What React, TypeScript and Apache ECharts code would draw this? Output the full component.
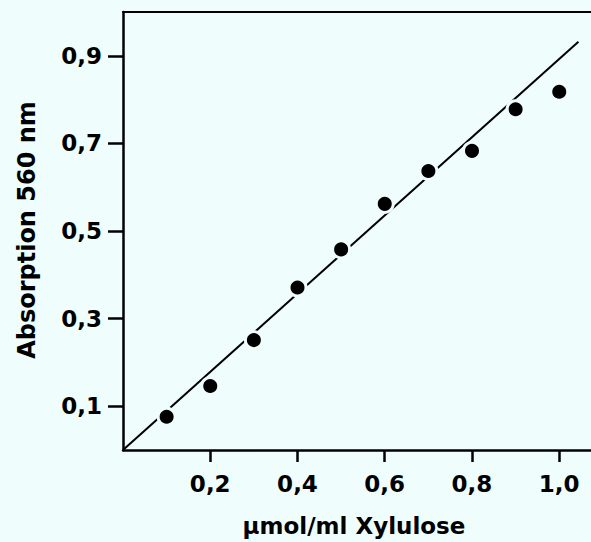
import React, { useEffect, useRef } from "react";
import * as echarts from "echarts";

const xValues = [0.1, 0.2, 0.3, 0.4, 0.5, 0.6, 0.7, 0.8, 0.9, 1.0];
const yValues = [0.076, 0.146, 0.251, 0.371, 0.458, 0.562, 0.637, 0.683, 0.778, 0.818];
const fitLine = [
  [0, 0],
  [1.044, 0.932],
];
const xTicks = [0.2, 0.4, 0.6, 0.8, 1.0];
const yTicks = [0.1, 0.3, 0.5, 0.7, 0.9];
const xTitle = "µmol/ml Xylulose";
const yTitle = "Absorption 560 nm";

const BG = "#effdfd";
const FONT = "'DejaVu Sans', sans-serif";

export default function App() {
  const ref = useRef<HTMLDivElement>(null);
  useEffect(() => {
    document.body.style.margin = "0";
    document.body.style.background = BG;
    const chart = echarts.init(ref.current!, null, { renderer: "svg" });
    const fmt = (v: number) => v.toFixed(1).replace(".", ",");
    chart.setOption({
      animation: false,
      backgroundColor: BG,
      grid: { left: 123, top: 12, width: 468, height: 438, containLabel: false },
      xAxis: [
        {
          type: "value",
          min: 0,
          max: 1.0728,
          position: "bottom",
          axisLine: { lineStyle: { color: "#000", width: 2.5 } },
          axisTick: { customValues: xTicks, length: 12, lineStyle: { color: "#000", width: 2.5 } },
          axisLabel: {
            customValues: xTicks,
            formatter: fmt,
            margin: 22,
            color: "#000",
            fontFamily: FONT,
            fontWeight: "bold",
            fontSize: 23,
          },
          splitLine: { show: false },
        },
        {
          type: "value",
          min: 0,
          max: 1.0728,
          position: "top",
          axisLine: { show: true, lineStyle: { color: "#000", width: 2 } },
          axisTick: { show: false },
          axisLabel: { show: false },
          splitLine: { show: false },
        },
      ],
      yAxis: {
        type: "value",
        min: 0,
        max: 1.0,
        axisLine: { show: true, lineStyle: { color: "#000", width: 2.5 } },
        axisTick: { show: true, customValues: yTicks, length: 15, lineStyle: { color: "#000", width: 2.5 } },
        axisLabel: {
          customValues: yTicks,
          formatter: fmt,
          margin: 21,
          color: "#000",
          fontFamily: FONT,
          fontWeight: "bold",
          fontSize: 23,
        },
        splitLine: { show: false },
      },
      graphic: [
        {
          type: "text",
          x: 354,
          y: 526,
          style: {
            text: xTitle,
            fill: "#000",
            font: `bold 23px ${FONT}`,
            textAlign: "center",
            textVerticalAlign: "middle",
          },
        },
        {
          type: "text",
          x: 27,
          y: 230,
          rotation: Math.PI / 2,
          style: {
            text: yTitle,
            fill: "#000",
            font: `bold 24px ${FONT}`,
            textAlign: "center",
            textVerticalAlign: "middle",
          },
        },
      ],
      series: [
        {
          type: "line",
          data: fitLine,
          showSymbol: false,
          lineStyle: { color: "#000", width: 2 },
          z: 2,
        },
        {
          type: "scatter",
          data: xValues.map((x, i) => [x, yValues[i]]),
          symbolSize: 17,
          itemStyle: { color: "#000", opacity: 1, borderColor: BG, borderWidth: 3 },
          z: 3,
        },
      ],
    });
    return () => chart.dispose();
  }, []);
  return (
    <div
      ref={ref}
      style={{ position: "absolute", left: 0, top: 0, width: 591, height: 542 }}
    />
  );
}
